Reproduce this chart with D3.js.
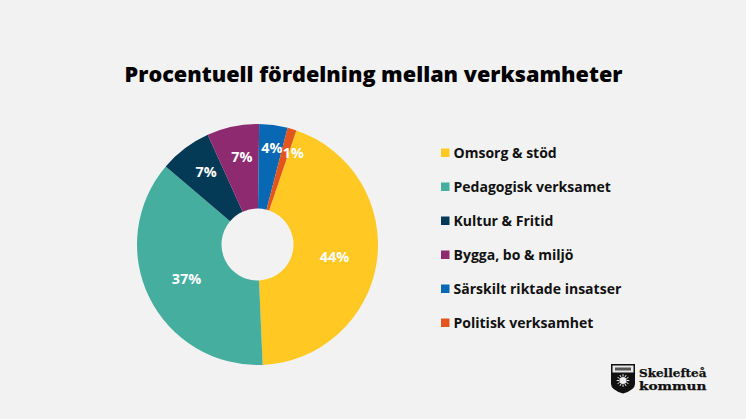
<!DOCTYPE html>
<html><head><meta charset="utf-8">
<script src="https://cdn.jsdelivr.net/npm/d3@7"></script>
<style>html,body{margin:0;padding:0;background:#f2f2f2}svg{display:block}text{font-family:"Open Sans",sans-serif}</style>
</head><body><svg id="c" width="746" height="419"></svg>
<script>
const categories=["Omsorg & stöd","Pedagogisk verksamet","Kultur & Fritid","Bygga, bo & miljö","Särskilt riktade insatser","Politisk verksamhet"];
const values=[44.1,36.9,7,7,3.8,1.2];
const labels=["44%","37%","7%","7%","4%","1%"];
const colors=["#FFC822","#46AE9F","#043A56","#8E2A70","#0868B4","#E2561E"];
const title="Procentuell fördelning mellan verksamheter";
const logoLines=["Skellefteå","kommun"];

const svg=d3.select("#c");
const W=746,H=419,cx=257.5,cy=244.5,R=120.5,r0=36;
svg.append("rect").attr("width",W).attr("height",H).attr("fill","#f2f2f2");
svg.append("text").attr("x",373.5).attr("y",82).attr("text-anchor","middle")
  .attr("font-size",21.65).attr("font-weight",800).attr("fill","#000").text(title);

const start=18.8*Math.PI/180;
const pie=d3.pie().sort(null).startAngle(start).endAngle(start+2*Math.PI);
const arc=d3.arc().innerRadius(r0).outerRadius(R);
const arcs=pie(values);
const g=svg.append("g").attr("transform",`translate(${cx},${cy})`);
g.selectAll("path").data(arcs).join("path").attr("d",arc).attr("fill",(d,i)=>colors[i]);
// label placement: small slices sit nearer the rim, each label is nudged slightly clockwise
const labelR=d3.scaleLinear().domain([1,4,7,37,44]).range([98.5,98,89,79,78]);
const nudge=d3.scaleLinear().domain([1,4,7,37,44]).range([5,0.5,1.7,0,1]);
g.selectAll("text").data(arcs).join("text")
  .each(function(d,i){
    const a=(d.startAngle+d.endAngle)/2+nudge(d.value)*Math.PI/180, rr=labelR(d.value);
    d3.select(this).attr("x",Math.sin(a)*rr).attr("y",-Math.cos(a)*rr);
  })
  .attr("text-anchor","middle").attr("dy","0.36em").attr("font-size",14.4).attr("font-weight",700)
  .attr("fill","#fff").text((d,i)=>labels[i]);

const ly=d3.scalePoint().domain(categories).range([153,323]);
const leg=svg.append("g").selectAll("g").data(categories).join("g").attr("transform",d=>`translate(0,${ly(d)})`);
leg.append("rect").attr("x",441).attr("y",-4.5).attr("width",8.5).attr("height",8.5).attr("fill",(d,i)=>colors[i]);
leg.append("text").attr("x",453.5).attr("y",0).attr("dy","0.36em").attr("font-size",14.03).attr("font-weight",700).attr("fill","#111").text(d=>d);

// logo
const lg=svg.append("g").attr("transform","translate(611,364)");
lg.append("path").attr("d","M0,0H24V20Q24,26 12,29.5Q0,26 0,20Z").attr("fill","#111");
lg.append("rect").attr("x",1.5).attr("y",1.5).attr("width",21).attr("height",7).attr("fill","#e8e8e8");
lg.append("rect").attr("x",4).attr("y",3.5).attr("width",16).attr("height",3).attr("fill","#555");
const sun=lg.append("g").attr("transform","translate(12,16.5)");
sun.append("circle").attr("r",3.6).attr("fill","#eee");
sun.selectAll("line").data(d3.range(12)).join("line")
  .attr("x1",d=>Math.cos(d*Math.PI/6)*4).attr("y1",d=>Math.sin(d*Math.PI/6)*4)
  .attr("x2",d=>Math.cos(d*Math.PI/6)*6.3).attr("y2",d=>Math.sin(d*Math.PI/6)*6.3)
  .attr("stroke","#eee").attr("stroke-width",1);
svg.append("g").selectAll("text").data(logoLines).join("text")
  .attr("x",639).attr("y",(d,i)=>376.5+i*13)
  .style("font-family","'DejaVu Serif',serif").attr("font-weight",700).attr("font-size",11).attr("fill","#111")
  .attr("stroke","#111").attr("stroke-width",0.25)
  .attr("textLength",67.5).attr("lengthAdjust","spacingAndGlyphs").text(d=>d);
</script></body></html>
